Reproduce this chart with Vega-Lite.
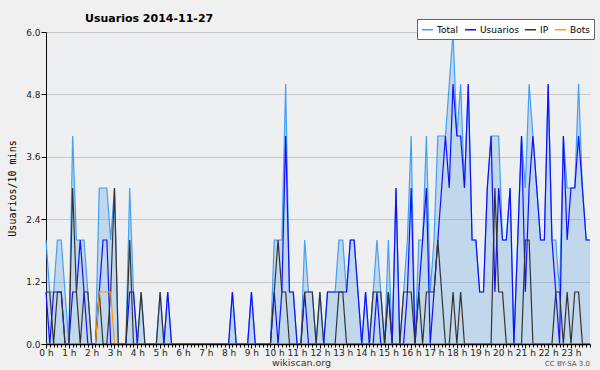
{
"$schema": "https://vega.github.io/schema/vega-lite/v6.json",
"width": 544, "height": 312,
"autosize": "none",
"padding": {"left": 46, "top": 32, "right": 10, "bottom": 26},
"background": "#f0f0f0",
"config": {"view": {"fill": "#eeeff1", "stroke": null}, "font": "DejaVu Sans"},
"title": {"text": "Usuarios  2014-11-27", "anchor": "start", "frame": "group", "dx": 39, "offset": -5, "fontSize": 11, "fontWeight": "bold", "font": "DejaVu Sans", "color": "#000"},
"data": {"values": [
{"m":0,"Total":2,"Usuarios":1,"IP":1,"Bots":0},
{"m":10,"Total":1,"Usuarios":0,"IP":1,"Bots":0},
{"m":20,"Total":1,"Usuarios":1,"IP":0,"Bots":0},
{"m":30,"Total":2,"Usuarios":1,"IP":1,"Bots":0},
{"m":40,"Total":2,"Usuarios":1,"IP":1,"Bots":0},
{"m":50,"Total":1,"Usuarios":0,"IP":0,"Bots":0},
{"m":60,"Total":0,"Usuarios":0,"IP":0,"Bots":0},
{"m":70,"Total":4,"Usuarios":1,"IP":3,"Bots":0},
{"m":80,"Total":2,"Usuarios":1,"IP":1,"Bots":0},
{"m":90,"Total":2,"Usuarios":2,"IP":0,"Bots":0},
{"m":100,"Total":2,"Usuarios":1,"IP":1,"Bots":0},
{"m":110,"Total":1,"Usuarios":0,"IP":1,"Bots":0},
{"m":120,"Total":0,"Usuarios":0,"IP":0,"Bots":0},
{"m":130,"Total":0,"Usuarios":0,"IP":0,"Bots":0},
{"m":140,"Total":3,"Usuarios":1,"IP":1,"Bots":1},
{"m":150,"Total":3,"Usuarios":2,"IP":0,"Bots":1},
{"m":160,"Total":3,"Usuarios":2,"IP":0,"Bots":1},
{"m":170,"Total":2,"Usuarios":0,"IP":1,"Bots":1},
{"m":180,"Total":3,"Usuarios":0,"IP":3,"Bots":0},
{"m":190,"Total":0,"Usuarios":0,"IP":0,"Bots":0},
{"m":200,"Total":0,"Usuarios":0,"IP":0,"Bots":0},
{"m":210,"Total":0,"Usuarios":0,"IP":0,"Bots":0},
{"m":220,"Total":3,"Usuarios":1,"IP":2,"Bots":0},
{"m":230,"Total":1,"Usuarios":1,"IP":0,"Bots":0},
{"m":240,"Total":0,"Usuarios":0,"IP":0,"Bots":0},
{"m":250,"Total":1,"Usuarios":0,"IP":1,"Bots":0},
{"m":260,"Total":0,"Usuarios":0,"IP":0,"Bots":0},
{"m":270,"Total":0,"Usuarios":0,"IP":0,"Bots":0},
{"m":280,"Total":0,"Usuarios":0,"IP":0,"Bots":0},
{"m":290,"Total":0,"Usuarios":0,"IP":0,"Bots":0},
{"m":300,"Total":1,"Usuarios":0,"IP":1,"Bots":0},
{"m":310,"Total":0,"Usuarios":0,"IP":0,"Bots":0},
{"m":320,"Total":1,"Usuarios":1,"IP":0,"Bots":0},
{"m":330,"Total":0,"Usuarios":0,"IP":0,"Bots":0},
{"m":340,"Total":0,"Usuarios":0,"IP":0,"Bots":0},
{"m":350,"Total":0,"Usuarios":0,"IP":0,"Bots":0},
{"m":360,"Total":0,"Usuarios":0,"IP":0,"Bots":0},
{"m":370,"Total":0,"Usuarios":0,"IP":0,"Bots":0},
{"m":380,"Total":0,"Usuarios":0,"IP":0,"Bots":0},
{"m":390,"Total":0,"Usuarios":0,"IP":0,"Bots":0},
{"m":400,"Total":0,"Usuarios":0,"IP":0,"Bots":0},
{"m":410,"Total":0,"Usuarios":0,"IP":0,"Bots":0},
{"m":420,"Total":0,"Usuarios":0,"IP":0,"Bots":0},
{"m":430,"Total":0,"Usuarios":0,"IP":0,"Bots":0},
{"m":440,"Total":0,"Usuarios":0,"IP":0,"Bots":0},
{"m":450,"Total":0,"Usuarios":0,"IP":0,"Bots":0},
{"m":460,"Total":0,"Usuarios":0,"IP":0,"Bots":0},
{"m":470,"Total":0,"Usuarios":0,"IP":0,"Bots":0},
{"m":480,"Total":0,"Usuarios":0,"IP":0,"Bots":0},
{"m":490,"Total":1,"Usuarios":1,"IP":0,"Bots":0},
{"m":500,"Total":0,"Usuarios":0,"IP":0,"Bots":0},
{"m":510,"Total":0,"Usuarios":0,"IP":0,"Bots":0},
{"m":520,"Total":0,"Usuarios":0,"IP":0,"Bots":0},
{"m":530,"Total":0,"Usuarios":0,"IP":0,"Bots":0},
{"m":540,"Total":1,"Usuarios":1,"IP":0,"Bots":0},
{"m":550,"Total":0,"Usuarios":0,"IP":0,"Bots":0},
{"m":560,"Total":0,"Usuarios":0,"IP":0,"Bots":0},
{"m":570,"Total":0,"Usuarios":0,"IP":0,"Bots":0},
{"m":580,"Total":0,"Usuarios":0,"IP":0,"Bots":0},
{"m":590,"Total":0,"Usuarios":0,"IP":0,"Bots":0},
{"m":600,"Total":2,"Usuarios":1,"IP":1,"Bots":0},
{"m":610,"Total":2,"Usuarios":0,"IP":2,"Bots":0},
{"m":620,"Total":2,"Usuarios":1,"IP":1,"Bots":0},
{"m":630,"Total":5,"Usuarios":4,"IP":1,"Bots":0},
{"m":640,"Total":1,"Usuarios":1,"IP":0,"Bots":0},
{"m":650,"Total":1,"Usuarios":1,"IP":0,"Bots":0},
{"m":660,"Total":0,"Usuarios":0,"IP":0,"Bots":0},
{"m":670,"Total":0,"Usuarios":0,"IP":0,"Bots":0},
{"m":680,"Total":2,"Usuarios":1,"IP":1,"Bots":0},
{"m":690,"Total":1,"Usuarios":0,"IP":1,"Bots":0},
{"m":700,"Total":1,"Usuarios":0,"IP":1,"Bots":0},
{"m":710,"Total":0,"Usuarios":0,"IP":0,"Bots":0},
{"m":720,"Total":1,"Usuarios":0,"IP":1,"Bots":0},
{"m":730,"Total":0,"Usuarios":0,"IP":0,"Bots":0},
{"m":740,"Total":1,"Usuarios":1,"IP":0,"Bots":0},
{"m":750,"Total":1,"Usuarios":1,"IP":0,"Bots":0},
{"m":760,"Total":1,"Usuarios":1,"IP":0,"Bots":0},
{"m":770,"Total":2,"Usuarios":1,"IP":1,"Bots":0},
{"m":780,"Total":2,"Usuarios":1,"IP":1,"Bots":0},
{"m":790,"Total":1,"Usuarios":1,"IP":0,"Bots":0},
{"m":800,"Total":2,"Usuarios":2,"IP":0,"Bots":0},
{"m":810,"Total":2,"Usuarios":2,"IP":0,"Bots":0},
{"m":820,"Total":1,"Usuarios":1,"IP":0,"Bots":0},
{"m":830,"Total":0,"Usuarios":0,"IP":0,"Bots":0},
{"m":840,"Total":1,"Usuarios":1,"IP":0,"Bots":0},
{"m":850,"Total":0,"Usuarios":0,"IP":0,"Bots":0},
{"m":860,"Total":1,"Usuarios":0,"IP":1,"Bots":0},
{"m":870,"Total":2,"Usuarios":1,"IP":1,"Bots":0},
{"m":880,"Total":1,"Usuarios":0,"IP":1,"Bots":0},
{"m":890,"Total":0,"Usuarios":0,"IP":0,"Bots":0},
{"m":900,"Total":2,"Usuarios":1,"IP":1,"Bots":0},
{"m":910,"Total":0,"Usuarios":0,"IP":0,"Bots":0},
{"m":920,"Total":3,"Usuarios":3,"IP":0,"Bots":0},
{"m":930,"Total":0,"Usuarios":0,"IP":0,"Bots":0},
{"m":940,"Total":1,"Usuarios":0,"IP":1,"Bots":0},
{"m":950,"Total":2,"Usuarios":1,"IP":1,"Bots":0},
{"m":960,"Total":4,"Usuarios":3,"IP":1,"Bots":0},
{"m":970,"Total":0,"Usuarios":0,"IP":0,"Bots":0},
{"m":980,"Total":2,"Usuarios":1,"IP":1,"Bots":0},
{"m":990,"Total":2,"Usuarios":2,"IP":0,"Bots":0},
{"m":1000,"Total":4,"Usuarios":3,"IP":1,"Bots":0},
{"m":1010,"Total":1,"Usuarios":0,"IP":1,"Bots":0},
{"m":1020,"Total":2,"Usuarios":1,"IP":1,"Bots":0},
{"m":1030,"Total":4,"Usuarios":2,"IP":2,"Bots":0},
{"m":1040,"Total":4,"Usuarios":3,"IP":1,"Bots":0},
{"m":1050,"Total":4,"Usuarios":4,"IP":0,"Bots":0},
{"m":1060,"Total":5,"Usuarios":3,"IP":0,"Bots":0},
{"m":1070,"Total":6,"Usuarios":5,"IP":1,"Bots":0},
{"m":1080,"Total":4,"Usuarios":4,"IP":0,"Bots":0},
{"m":1090,"Total":5,"Usuarios":4,"IP":1,"Bots":0},
{"m":1100,"Total":3,"Usuarios":3,"IP":0,"Bots":0},
{"m":1110,"Total":5,"Usuarios":5,"IP":0,"Bots":0},
{"m":1120,"Total":2,"Usuarios":2,"IP":0,"Bots":0},
{"m":1130,"Total":2,"Usuarios":2,"IP":0,"Bots":0},
{"m":1140,"Total":1,"Usuarios":1,"IP":0,"Bots":0},
{"m":1150,"Total":1,"Usuarios":1,"IP":0,"Bots":0},
{"m":1160,"Total":3,"Usuarios":3,"IP":0,"Bots":0},
{"m":1170,"Total":4,"Usuarios":4,"IP":0,"Bots":0},
{"m":1180,"Total":4,"Usuarios":1,"IP":3,"Bots":0},
{"m":1190,"Total":4,"Usuarios":3,"IP":1,"Bots":0},
{"m":1200,"Total":2,"Usuarios":2,"IP":1,"Bots":0},
{"m":1210,"Total":2,"Usuarios":2,"IP":0,"Bots":0},
{"m":1220,"Total":3,"Usuarios":3,"IP":0,"Bots":0},
{"m":1230,"Total":0,"Usuarios":0,"IP":0,"Bots":0},
{"m":1240,"Total":2,"Usuarios":2,"IP":0,"Bots":0},
{"m":1250,"Total":4,"Usuarios":4,"IP":0,"Bots":0},
{"m":1260,"Total":3,"Usuarios":1,"IP":2,"Bots":0},
{"m":1270,"Total":5,"Usuarios":3,"IP":2,"Bots":0},
{"m":1280,"Total":4,"Usuarios":4,"IP":0,"Bots":0},
{"m":1290,"Total":3,"Usuarios":3,"IP":0,"Bots":0},
{"m":1300,"Total":2,"Usuarios":2,"IP":0,"Bots":0},
{"m":1310,"Total":2,"Usuarios":2,"IP":0,"Bots":0},
{"m":1320,"Total":5,"Usuarios":5,"IP":0,"Bots":0},
{"m":1330,"Total":2,"Usuarios":2,"IP":0,"Bots":0},
{"m":1340,"Total":2,"Usuarios":1,"IP":1,"Bots":0},
{"m":1350,"Total":1,"Usuarios":0,"IP":1,"Bots":0},
{"m":1360,"Total":4,"Usuarios":4,"IP":0,"Bots":0},
{"m":1370,"Total":3,"Usuarios":2,"IP":1,"Bots":0},
{"m":1380,"Total":3,"Usuarios":3,"IP":0,"Bots":0},
{"m":1390,"Total":3,"Usuarios":3,"IP":1,"Bots":0},
{"m":1400,"Total":5,"Usuarios":4,"IP":1,"Bots":0},
{"m":1410,"Total":3,"Usuarios":3,"IP":0,"Bots":0},
{"m":1420,"Total":2,"Usuarios":2,"IP":0,"Bots":0},
{"m":1430,"Total":2,"Usuarios":2,"IP":0,"Bots":0}
]},
"encoding": {
  "x": {"field": "m", "type": "quantitative", "scale": {"domain": [0, 1430], "nice": false, "zero": false},
    "axis": {"tickCount": 144, "labelExpr": "datum.value % 60 == 0 ? (datum.value / 60) + ' h' : ''",
      "tickSize": {"condition": {"test": "datum.value % 60 == 0", "value": 4}, "value": 3},
      "title": "wikiscan.org", "titleX": 255, "titleY": 21, "titleBaseline": "alphabetic", "titleFontSize": 9.5, "titleFontWeight": "normal", "titleColor": "#333",
      "domainColor": "#000", "domainWidth": 1.5, "tickColor": "#000", "labelFontSize": 9, "labelPadding": 0, "labelColor": "#222",
      "labelOverlap": false, "labelFlush": false, "labelBound": false, "grid": false, "zindex": 1}}
},
"layer": [
  {"mark": {"type": "area", "fill": "#3d8fe0", "fillOpacity": 0.25, "line": false},
   "encoding": {"y": {"field": "Total", "type": "quantitative", "title": "Usuarios/10 mins", "scale": {"domain": [0, 6], "nice": false},
     "axis": {"values": [0,0.3,0.6,0.9,1.2,1.5,1.8,2.1,2.4,2.7,3.0,3.3,3.6,3.9,4.2,4.5,4.8,5.1,5.4,5.7,6.0],
       "labelExpr": "abs(datum.value/1.2 - round(datum.value/1.2)) < 0.01 ? format(datum.value, '.1f') : ''",
       "tickSize": {"condition": {"test": "abs(datum.value/1.2 - round(datum.value/1.2)) < 0.01", "value": 5}, "value": 3},
       "gridOpacity": {"condition": {"test": "abs(datum.value/1.2 - round(datum.value/1.2)) < 0.01", "value": 1}, "value": 0},
       "gridColor": "#c8c8c8", "domainColor": "#000", "tickColor": "#000", "labelFontSize": 9, "labelPadding": 1, "labelColor": "#222",
       "labelOverlap": false, "titleFont": "DejaVu Sans Mono", "titleFontSize": 10, "titleFontWeight": "normal", "titleColor": "#000", "titlePadding": 8}}}},
  {"transform": [{"fold": ["Total", "Usuarios", "IP", "Bots"], "as": ["serie", "v"]}],
   "mark": {"type": "line", "strokeWidth": 1.2},
   "encoding": {
     "y": {"field": "v", "type": "quantitative", "title": "Usuarios/10 mins"},
     "color": {"field": "serie", "type": "nominal",
       "scale": {"domain": ["Total", "Usuarios", "IP", "Bots"], "range": ["#42a0f5", "#1010ff", "#333333", "#ff9900"]},
       "legend": {"orient": "none", "legendX": 371, "legendY": -13, "direction": "horizontal", "title": null,
         "symbolType": "stroke", "symbolSize": 121, "symbolStrokeWidth": 1.5, "labelFontSize": 9, "labelColor": "#000",
         "labelFont": "DejaVu Sans",
         "fillColor": "#ffffff", "strokeColor": "#666666", "padding": 4, "columnPadding": 3, "labelOffset": 3}}}},
  {"data": {"values": [{"m": 1430, "label": "CC BY-SA 3.0"}]},
   "mark": {"type": "text", "align": "right", "baseline": "middle", "dy": 20, "fontSize": 7, "color": "#555"},
   "encoding": {"x": {"field": "m", "type": "quantitative"}, "y": {"datum": 0}, "text": {"field": "label"}}}
]
}
